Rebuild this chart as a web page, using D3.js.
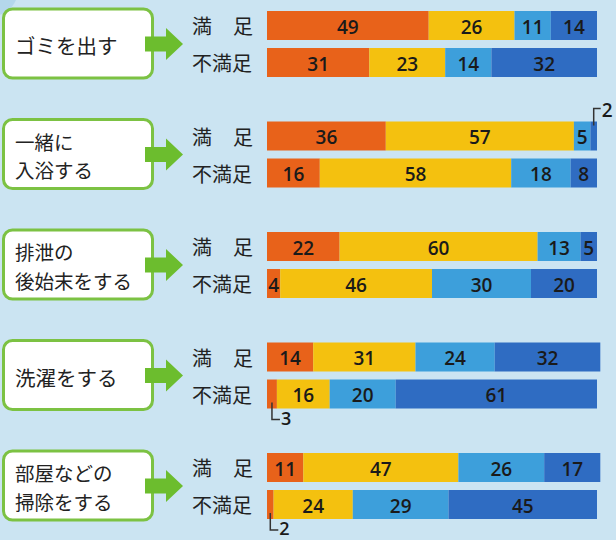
<!DOCTYPE html>
<html><head><meta charset="utf-8">
<script src="https://cdn.jsdelivr.net/npm/d3@7"></script>
<style>html,body{margin:0;padding:0;background:#cbe4f2;}svg{display:block;}</style>
</head><body>
<svg id="c" width="616" height="540"></svg>
<script>
// ---- data ----
const tasks = [["ゴミを出す"], ["一緒に", "入浴する"], ["排泄の", "後始末をする"], ["洗濯をする"], ["部屋などの", "掃除をする"]];
const rowLabels = ["満足", "不満足"];
const satisfied = [[49, 26, 11, 14], [36, 57, 5, 2], [22, 60, 13, 5], [14, 31, 24, 32], [11, 47, 26, 17]];
const unsatisfied = [[31, 23, 14, 32], [16, 58, 18, 8], [4, 46, 30, 20], [3, 16, 20, 61], [2, 24, 29, 45]];
const segColors = ["#e8621a", "#f4c10f", "#3d9fdb", "#2f6cc2"];

const svg = d3.select("#c");
svg.append("rect").attr("width", 616).attr("height", 540).attr("fill", "#cbe4f2");
svg.append("circle").attr("cx", -8).attr("cy", -10).attr("r", 26).attr("fill", "#a9d2ea").attr("opacity", 0.7);

const x = d3.scaleLinear().domain([0, 100]).range([267, 597]);
const gy = d3.scaleLinear().domain([0, 4]).range([11, 453]);
const barH = 29, barGap = 8;
const numFont = "'Open Sans','Noto Sans',sans-serif";
const jpFont = "'Noto Sans CJK JP','Noto Sans',sans-serif";

tasks.forEach((lines, i) => {
  const top = gy(i);
  const center = top + barH + barGap / 2;
  const g = svg.append("g");
  // box
  g.append("rect").attr("x", 3.5).attr("y", top - 2).attr("width", 149).attr("height", 69)
    .attr("rx", 9).attr("fill", "#fff").attr("stroke", "#7cc243").attr("stroke-width", 3);
  const fs = lines.length > 1 ? 19.5 : 20.5;
  const lh = 28.5;
  lines.forEach((line, k) => {
    g.append("text").attr("x", 15).attr("y", center + (k - (lines.length - 1) / 2) * lh + 1)
      .attr("dominant-baseline", "central").attr("font-family", jpFont).attr("font-size", fs)
      .attr("fill", "#222").text(line);
  });
  // arrow
  const ax0 = 145, ax1 = 166, ax2 = 183;
  g.append("path").attr("fill", "#6cbd2e")
    .attr("d", `M${ax0},${center - 7.5}H${ax1}V${center - 16}L${ax2},${center}L${ax1},${center + 16}V${center + 7.5}H${ax0}Z`);

  [satisfied[i], unsatisfied[i]].forEach((vals, r) => {
    const by = top + r * (barH + barGap);
    const cy = by + barH / 2;
    // row label
    if (r === 0) {
      g.append("text").attr("x", 192).attr("y", cy).attr("dominant-baseline", "central")
        .attr("font-family", jpFont).attr("font-size", 20).attr("fill", "#222").text(rowLabels[0][0]);
      g.append("text").attr("x", 253).attr("y", cy).attr("text-anchor", "end").attr("dominant-baseline", "central")
        .attr("font-family", jpFont).attr("font-size", 20).attr("fill", "#222").text(rowLabels[0][1]);
    } else {
      g.append("text").attr("x", 192).attr("y", cy).attr("dominant-baseline", "central")
        .attr("font-family", jpFont).attr("font-size", 20).attr("fill", "#222").text(rowLabels[1]);
    }
    let cum = 0;
    vals.forEach((v, s) => {
      const x0 = x(cum), x1 = x(cum + v);
      cum += v;
      g.append("rect").attr("x", x0).attr("y", by).attr("width", x1 - x0).attr("height", barH).attr("fill", segColors[s]);
      const mid = (x0 + x1) / 2;
      if (v >= 4) {
        g.append("text").attr("x", mid).attr("y", cy + 1).attr("text-anchor", "middle").attr("dominant-baseline", "central")
          .attr("font-family", numFont).attr("font-size", 19).attr("font-weight", 600).attr("fill", "#1a1a1a").text(v);
      } else if (s === vals.length - 1) {
        g.append("path").attr("fill", "none").attr("stroke", "#333").attr("stroke-width", 1.5)
          .attr("d", `M${mid},${by + 4}V${by - 13}H${mid + 7}`);
        g.append("text").attr("x", mid + 8).attr("y", by - 12).attr("dominant-baseline", "central")
          .attr("font-family", numFont).attr("font-size", 19).attr("font-weight", 600).attr("fill", "#1a1a1a").text(v);
      } else {
        g.append("path").attr("fill", "none").attr("stroke", "#333").attr("stroke-width", 1.5)
          .attr("d", `M${mid},${by + barH - 6}V${by + barH + 11}H${mid + 8}`);
        g.append("text").attr("x", mid + 9).attr("y", by + barH + 9).attr("dominant-baseline", "central")
          .attr("font-family", numFont).attr("font-size", 18).attr("font-weight", 600).attr("fill", "#1a1a1a").text(v);
      }
    });
  });
});
</script>
</body></html>
